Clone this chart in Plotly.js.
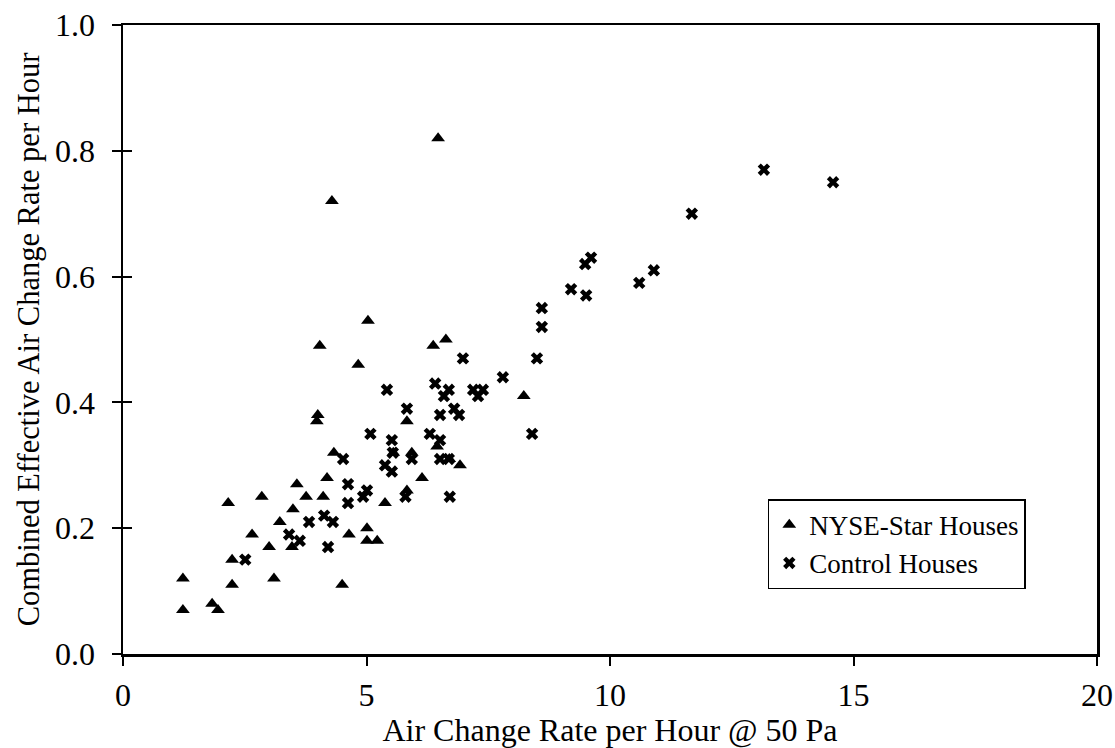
<!DOCTYPE html>
<html><head><meta charset="utf-8">
<script src="https://cdn.plot.ly/plotly-3.0.1.min.js"></script>
<style>html,body{margin:0;padding:0;background:#fff}#chart{width:1115px;height:748px}</style>
</head><body><div id="chart"></div>
<script>
const nyseX = [1.23,1.23,1.83,1.95,2.16,2.24,2.24,2.65,2.85,3.00,3.10,3.22,3.49,3.47,3.57,3.76,4.11,4.19,4.50,4.64,5.01,5.01,5.22,4.04,4.00,3.98,4.33,4.83,5.03,4.29,6.47,6.37,6.63,8.23,5.83,6.45,5.93,6.92,6.70,6.14,5.83,5.38,5.55];
const nyseY = [0.12,0.07,0.08,0.07,0.24,0.15,0.11,0.19,0.25,0.17,0.12,0.21,0.23,0.17,0.27,0.25,0.25,0.28,0.11,0.19,0.20,0.18,0.18,0.49,0.38,0.37,0.32,0.46,0.53,0.72,0.82,0.49,0.50,0.41,0.37,0.33,0.32,0.30,0.31,0.28,0.26,0.24,0.32];
const ctrlX = [2.51,3.41,3.63,3.82,4.13,4.31,4.21,4.62,4.62,4.93,5.01,4.52,5.08,5.42,5.83,6.41,6.69,6.59,6.98,7.19,7.39,7.29,7.80,8.60,8.60,8.50,8.40,5.52,5.54,5.38,5.52,5.93,6.30,6.51,6.51,6.80,6.90,6.51,6.69,6.71,5.80,9.61,9.49,9.20,9.51,10.6,10.9,11.68,13.16,14.58];
const ctrlY = [0.15,0.19,0.18,0.21,0.22,0.21,0.17,0.24,0.27,0.25,0.26,0.31,0.35,0.42,0.39,0.43,0.42,0.41,0.47,0.42,0.42,0.41,0.44,0.55,0.52,0.47,0.35,0.34,0.32,0.30,0.29,0.31,0.35,0.34,0.38,0.39,0.38,0.31,0.31,0.25,0.25,0.63,0.62,0.58,0.57,0.59,0.61,0.70,0.77,0.75];
const xTicks = [0,5,10,15,20];
const yTicks = [0,0.2,0.4,0.6,0.8,1.0];
const yTickText = ['0.0','0.2','0.4','0.6','0.8','1.0'];

const font = {family:'"Liberation Serif", "DejaVu Serif", serif', color:'#000'};
const traces = [
  {x:nyseX, y:nyseY, type:'scatter', mode:'markers', name:'NYSE-Star Houses',
   marker:{symbol:'triangle-up', size:12, color:'#000'}},
  {x:ctrlX, y:ctrlY, type:'scatter', mode:'markers', name:'Control Houses',
   marker:{symbol:'x', size:11, color:'#000'}},
  {x:[null], y:[null], yaxis:'y2', xaxis:'x', showlegend:false, hoverinfo:'skip'}
];
const layout = {
  width:1115, height:748,
  margin:{l:123, r:18, t:25, b:94},
  paper_bgcolor:'#fff', plot_bgcolor:'#fff',
  font:Object.assign({size:27}, font),
  showlegend:true,
  legend:{x:0.662, y:0.246, xanchor:'left', yanchor:'top', bgcolor:'#fff',
    bordercolor:'#000', borderwidth:1.5, font:Object.assign({size:27}, font),
    itemsizing:'trace', tracegroupgap:0, itemwidth:30},
  xaxis:{range:[0,20], tickvals:xTicks, ticktext:xTicks.map(String),
    showgrid:false, zeroline:false, showline:true, linecolor:'#000', linewidth:2.5,
    mirror:true, ticks:'outside', ticklen:9, tickwidth:2, tickcolor:'#000',
    ticklabelstandoff:2, tickfont:Object.assign({size:32}, font),
    title:{text:'Air Change Rate per Hour @ 50 Pa', font:Object.assign({size:32}, font), standoff:2}},
  yaxis:{range:[0,1], tickvals:yTicks, ticktext:yTickText,
    showgrid:false, zeroline:false, showline:true, linecolor:'#000', linewidth:2.5,
    mirror:true, ticks:'outside', ticklen:9, tickwidth:2, tickcolor:'#000',
    ticklabelstandoff:10, tickfont:Object.assign({size:32}, font),
    title:{text:'Combined Effective Air Change Rate per Hour', font:Object.assign({size:30.5}, font), standoff:7}},
  yaxis2:{range:[0,1], overlaying:'y', side:'left', tickvals:yTicks, showticklabels:false,
    showgrid:false, zeroline:false, showline:false, ticks:'inside', ticklen:9, tickwidth:2, tickcolor:'#000'}
};
Plotly.newPlot('chart', traces, layout, {displayModeBar:false, staticPlot:true});
</script></body></html>
